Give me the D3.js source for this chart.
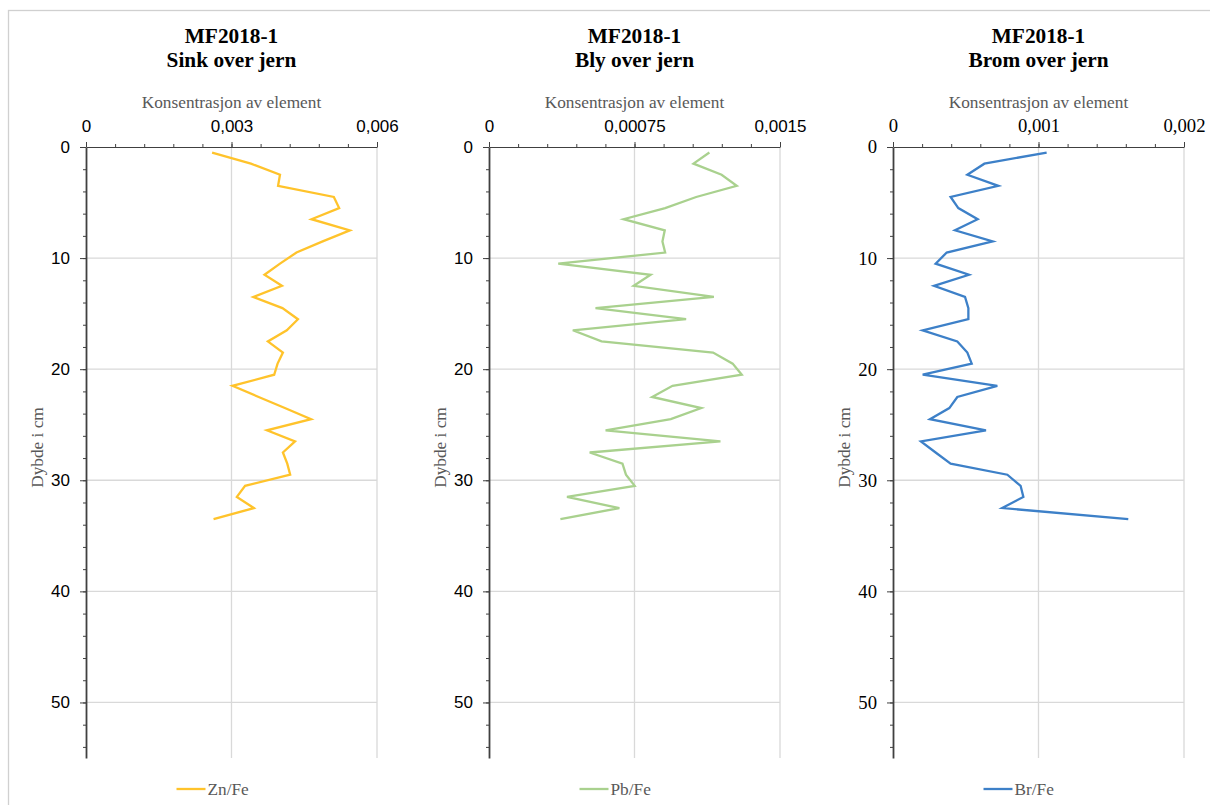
<!DOCTYPE html>
<html>
<head>
<meta charset="utf-8">
<script src="https://cdn.jsdelivr.net/npm/d3@7"></script>
<style>
  html, body { margin: 0; padding: 0; background: #fff; }
  svg { display: block; }
</style>
</head>
<body>
<svg id="chart" width="1210" height="805"></svg>
<script>
// Sample depths (cm), midpoint of each 1 cm slice
const depths = [0.5,1.5,2.5,3.5,4.5,5.5,6.5,7.5,8.5,9.5,10.5,11.5,12.5,13.5,14.5,15.5,16.5,
  17.5,18.5,19.5,20.5,21.5,22.5,23.5,24.5,25.5,26.5,27.5,28.5,29.5,30.5,31.5,32.5,33.5];

// Zn/Fe ratio
const znFe = [0.00260,0.00340,0.00400,0.00396,0.00511,0.00522,0.00465,0.00544,0.00488,0.00434,
  0.00400,0.00368,0.00404,0.00345,0.00405,0.00437,0.00414,0.00375,0.00406,0.00395,0.00388,
  0.00302,0.00356,0.00410,0.00464,0.00373,0.00431,0.00406,0.00415,0.00421,0.00328,0.00311,
  0.00346,0.00263];

// Pb/Fe ratio
const pbFe = [0.001136,0.001054,0.001199,0.001277,0.001068,0.000908,0.000694,0.000906,0.000894,
  0.000908,0.000357,0.000833,0.000746,0.001159,0.000549,0.001016,0.000432,0.000580,0.001155,
  0.001256,0.001303,0.000946,0.000841,0.001094,0.000937,0.000601,0.001193,0.000519,0.000688,
  0.000706,0.000751,0.000402,0.000672,0.000368];

// Br/Fe ratio
const brFe = [0.001056,0.000628,0.000511,0.000724,0.000396,0.000449,0.000582,0.000426,0.000685,
  0.000369,0.000293,0.000522,0.000282,0.000495,0.000518,0.000518,0.000204,0.000442,0.000511,
  0.000541,0.000204,0.000717,0.000442,0.000387,0.000254,0.000639,0.000192,0.000293,0.000396,
  0.000786,0.000877,0.000896,0.000751,0.001617];

const titles = ["Sink over jern", "Bly over jern", "Brom over jern"];
const sampleId = "MF2018-1";
const seriesNames = ["Zn/Fe", "Pb/Fe", "Br/Fe"];
const seriesValues = [znFe, pbFe, brFe];
const seriesColors = ["#FFC32B", "#A9D18E", "#3D80C8"];
const xMax = [0.006, 0.0015, 0.002];
const xTickValues = [[0, 0.003, 0.006], [0, 0.00075, 0.0015], [0, 0.001, 0.002]];
const xTickLabels = [["0", "0,003", "0,006"], ["0", "0,00075", "0,0015"], ["0", "0,001", "0,002"]];
const depthTicks = [0, 10, 20, 30, 40, 50];
const depthMax = 55;
const xTitle = "Konsentrasjon av element";
const yTitle = "Dybde i cm";

// Layout of the three panels
const plotLeft = [86, 489, 893];
const plotWidth = 291;
const plotTop = 147, plotBottom = 758;
const tickFonts = [
  {family: "'Liberation Sans', Arial, sans-serif", size: 17},
  {family: "'Liberation Sans', Arial, sans-serif", size: 17},
  {family: "'Liberation Serif', 'Times New Roman', serif", size: 18.7}
];
const serif = "'Liberation Serif', 'Times New Roman', serif";
const grid = "#d9d9d9";

const svg = d3.select("#chart");

// outer chart frame
svg.append("rect")
  .attr("x", 8.5).attr("y", 10.5)
  .attr("width", 1215).attr("height", 820)
  .attr("fill", "#fff").attr("stroke", "#d0d0d0").attr("stroke-width", 1.3);

seriesValues.forEach((vals, i) => {
  const g = svg.append("g");
  const x = d3.scaleLinear().domain([0, xMax[i]]).range([plotLeft[i], plotLeft[i] + plotWidth]);
  const y = d3.scaleLinear().domain([0, depthMax]).range([plotTop, plotBottom]);
  const cx = plotLeft[i] + plotWidth / 2;

  // gridlines
  g.append("g").selectAll("line").data(depthTicks.filter(d => d > 0)).join("line")
    .attr("x1", x(0)).attr("x2", x(xMax[i]))
    .attr("y1", d => y(d)).attr("y2", d => y(d))
    .attr("stroke", grid).attr("stroke-width", 1.3);
  g.append("g").selectAll("line").data(xTickValues[i].filter(d => d > 0)).join("line")
    .attr("x1", d => x(d)).attr("x2", d => x(d))
    .attr("y1", plotTop).attr("y2", plotBottom)
    .attr("stroke", grid).attr("stroke-width", 1.3);

  // titles
  g.append("text").attr("x", cx).attr("y", 43).attr("text-anchor", "middle")
    .attr("font-family", serif).attr("font-weight", "bold").attr("font-size", 21.3)
    .attr("fill", "#000").text(sampleId);
  g.append("text").attr("x", cx).attr("y", 67).attr("text-anchor", "middle")
    .attr("font-family", serif).attr("font-weight", "bold").attr("font-size", 21.3)
    .attr("fill", "#000").text(titles[i]);
  g.append("text").attr("x", cx).attr("y", 108).attr("text-anchor", "middle")
    .attr("font-family", serif).attr("font-size", 17.3)
    .attr("fill", "#595959").text(xTitle);
  g.append("text")
    .attr("transform", `translate(${plotLeft[i] - 43},${(plotTop + plotBottom) / 2 - 5}) rotate(-90)`)
    .attr("text-anchor", "middle")
    .attr("font-family", serif).attr("font-size", 17.3)
    .attr("fill", "#595959").text(yTitle);

  // top (value) axis: minor ticks then major ticks with labels
  const xMinor = d3.range(0, 11).map(k => xMax[i] * k / 10);
  g.append("g").attr("transform", `translate(0,${plotTop})`)
    .call(d3.axisTop(x).tickValues(xMinor).tickSize(3).tickSizeOuter(0).tickFormat(""))
    .call(a => a.select(".domain").attr("stroke", "#404040").attr("stroke-width", 1.2))
    .call(a => a.selectAll(".tick line").attr("stroke", "#404040"));
  g.append("g").attr("transform", `translate(0,${plotTop})`)
    .call(d3.axisTop(x).tickValues(xTickValues[i]).tickSize(5).tickSizeOuter(0)
      .tickPadding(10).tickFormat((d, k) => xTickLabels[i][k]))
    .call(a => a.select(".domain").remove())
    .call(a => a.selectAll(".tick line").attr("stroke", "#404040"))
    .call(a => a.selectAll(".tick text").attr("font-family", tickFonts[i].family)
      .attr("font-size", tickFonts[i].size).attr("fill", "#000"));

  // left (depth) axis
  const yMinor = d3.range(0, depthMax + 0.1, 2);
  g.append("g").attr("transform", `translate(${plotLeft[i]},0)`)
    .call(d3.axisLeft(y).tickValues(yMinor).tickSize(3).tickSizeOuter(0).tickFormat(""))
    .call(a => a.select(".domain").attr("stroke", "#404040").attr("stroke-width", 1.8))
    .call(a => a.selectAll(".tick line").attr("stroke", "#404040"));
  g.append("g").attr("transform", `translate(${plotLeft[i]},0)`)
    .call(d3.axisLeft(y).tickValues(depthTicks).tickSize(6).tickSizeOuter(0)
      .tickPadding(10).tickFormat(d3.format("d")))
    .call(a => a.select(".domain").remove())
    .call(a => a.selectAll(".tick line").attr("stroke", "#404040"))
    .call(a => a.selectAll(".tick text").attr("font-family", tickFonts[i].family)
      .attr("font-size", tickFonts[i].size).attr("fill", "#000"));

  // data line
  const line = d3.line().x(d => x(d[0])).y(d => y(d[1]));
  g.append("path").datum(vals.map((v, k) => [v, depths[k]]))
    .attr("d", line).attr("fill", "none")
    .attr("stroke", seriesColors[i]).attr("stroke-width", 2.3)
    .attr("stroke-linejoin", "miter");

  // legend
  const lx = cx - 55;
  g.append("line").attr("x1", lx).attr("x2", lx + 29).attr("y1", 789).attr("y2", 789)
    .attr("stroke", seriesColors[i]).attr("stroke-width", 2.3);
  g.append("text").attr("x", lx + 31).attr("y", 795)
    .attr("font-family", serif).attr("font-size", 17.3)
    .attr("fill", "#595959").text(seriesNames[i]);
});
</script>
</body>
</html>
